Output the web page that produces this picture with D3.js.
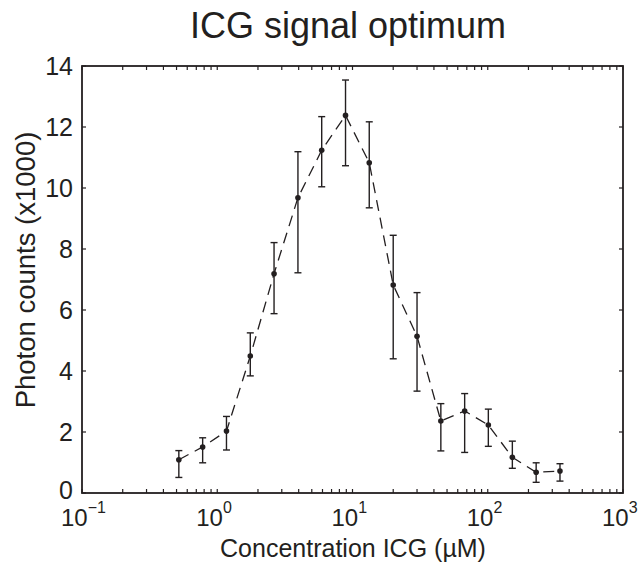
<!DOCTYPE html>
<html><head><meta charset="utf-8">
<script src="https://cdn.jsdelivr.net/npm/d3@7"></script>
<style>body{margin:0;background:#fff}svg{display:block}text{font-family:"Liberation Sans",Arial,sans-serif;fill:#231f20}</style>
</head><body>
<script>
const concentrations = [0.52,0.78,1.17,1.755,2.63,3.95,5.92,8.88,13.3,20.0,30.0,45.0,67.5,101,152,228,342];
const means = [1.09,1.51,2.03,4.49,7.19,9.68,11.24,12.38,10.83,6.82,5.14,2.36,2.69,2.23,1.17,0.68,0.72];
const upper = [1.39,1.81,2.51,5.25,8.21,11.19,12.34,13.54,12.17,8.45,6.57,2.93,3.26,2.75,1.70,0.99,0.96];
const lower = [0.51,0.99,1.41,3.84,5.88,7.22,10.04,10.73,9.35,4.40,3.34,1.38,1.33,1.53,0.81,0.35,0.39];
const xTickExps = [-1,0,1,2,3];
const yTicks = [0,2,4,6,8,10,12,14];
const title = "ICG signal optimum";
const xLabel = "Concentration ICG (µM)";
const yLabel = "Photon counts (x1000)";

const W=641,H=563, L=82,R=623,T=66,B=493;
const col="#231f20";
const svg=d3.select("body").append("svg").attr("width",W).attr("height",H);
const x=d3.scaleLog().domain([0.1,1000]).range([L,R]);
const y=d3.scaleLinear().domain([0,14]).range([B,T]);

// minor ticks
const minor=[];
for(let e=-1;e<3;e++) for(let m=1;m<10;m++) minor.push(m*Math.pow(10,e));
minor.push(1000);
const tl=4;
const g=svg.append("g").attr("stroke",col).attr("stroke-width",1.2);
minor.forEach(v=>{
  const px=x(v);
  g.append("line").attr("x1",px).attr("x2",px).attr("y1",B).attr("y2",B-tl);
  g.append("line").attr("x1",px).attr("x2",px).attr("y1",T).attr("y2",T+tl);
});
yTicks.forEach(v=>{
  const py=y(v);
  g.append("line").attr("x1",L).attr("x2",L+tl).attr("y1",py).attr("y2",py);
  g.append("line").attr("x1",R).attr("x2",R-tl).attr("y1",py).attr("y2",py);
});
svg.append("rect").attr("x",L).attr("y",T).attr("width",R-L).attr("height",B-T)
  .attr("fill","none").attr("stroke",col).attr("stroke-width",1.8);

// y tick labels
svg.append("g").selectAll("text").data(yTicks).join("text")
  .attr("x",L-9).attr("y",d=>y(d)+(d===0?6:9)).attr("text-anchor","end")
  .attr("font-size",25).text(d=>d);
// x tick labels
const xl=svg.append("g").selectAll("text").data(xTickExps).join("text")
  .attr("x",d=>x(Math.pow(10,d))-21).attr("y",526).attr("text-anchor","start").attr("font-size",24);
xl.append("tspan").text("10");
xl.append("tspan").attr("dy",-13).attr("font-size",16).text(d=>d<0?"\u2212"+(-d):d);

// title & axis labels
svg.append("text").attr("x",348).attr("y",38).attr("text-anchor","middle").attr("font-size",36).text(title);
svg.append("text").attr("x",353).attr("y",557).attr("text-anchor","middle").attr("font-size",25).text(xLabel);
svg.append("text").attr("transform",`translate(35,270) rotate(-90)`).attr("text-anchor","middle").attr("font-size",27.5).text(yLabel);

// line
const data=concentrations.map((c,i)=>({c,m:means[i],u:upper[i],l:lower[i]}));
svg.append("path").datum(data).attr("fill","none").attr("stroke",col).attr("stroke-width",1.3)
  .attr("stroke-dasharray","11,7")
  .attr("d",d3.line().x(d=>x(d.c)).y(d=>y(d.m)));
// error bars
const eb=svg.append("g").attr("stroke",col).attr("stroke-width",1.4);
data.forEach(d=>{
  const px=x(d.c);
  eb.append("line").attr("x1",px).attr("x2",px).attr("y1",y(d.u)).attr("y2",y(d.l));
  eb.append("line").attr("x1",px-3.5).attr("x2",px+3.5).attr("y1",y(d.u)).attr("y2",y(d.u));
  eb.append("line").attr("x1",px-3.5).attr("x2",px+3.5).attr("y1",y(d.l)).attr("y2",y(d.l));
});
svg.append("g").selectAll("circle").data(data).join("circle")
  .attr("cx",d=>x(d.c)).attr("cy",d=>y(d.m)).attr("r",2.8).attr("fill",col);
</script>
</body></html>
